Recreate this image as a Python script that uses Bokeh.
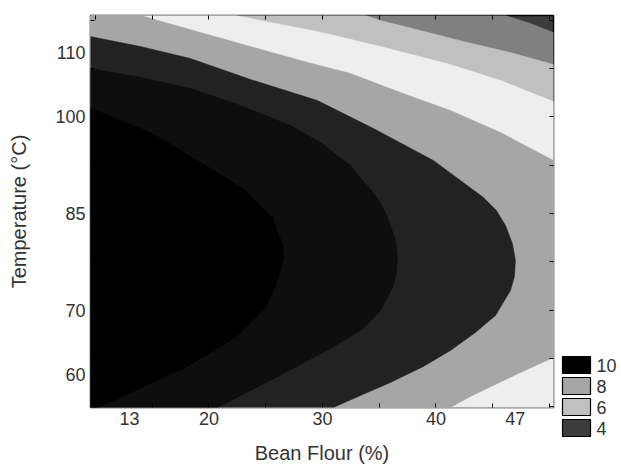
from bokeh.plotting import figure
from bokeh.layouts import row
from bokeh.models import (FixedTicker, LinearAxis, Range1d, CustomJSTickFormatter,
                          ColumnDataSource)
from bokeh.core.properties import value
from bokeh.embed import file_html
from bokeh.resources import INLINE

# ---- axis extents and ticks -------------------------------------------
X0, X1 = 9.56, 50.36          # Bean flour (%)
Y0, Y1 = 54.92, 115.7         # Temperature (°C)
x_tick_labels = [13, 20, 30, 40, 47]
y_tick_labels = [60, 70, 85, 100, 110]
x_tick_marks = [10, 15, 20, 25, 30, 35, 40, 45, 50]
y_tick_marks = [55, 62.5, 70, 77.5, 85, 92.5, 100, 107.5, 115]

# ---- contour boundaries (flour %, temperature) ---
# innermost (black) band boundary
b1_flour = [9.56, 12.21, 15.03, 19.43, 23.22, 25.60, 26.04, 26.48, 26.57, 26.30, 25.78, 24.98, 22.34, 17.93, 13.53, 10.27]
b1_temp = [101.28, 99.42, 97.40, 92.75, 88.57, 84.38, 82.05, 80.35, 78.02, 76.16, 73.37, 70.43, 65.78, 61.12, 57.56, 54.92]
# near-black band boundary
b2_flour = [9.56, 13.97, 18.37, 22.78, 27.19, 29.83, 32.47, 34.67, 35.47, 35.99, 36.44, 36.61, 36.52, 36.26, 35.11, 33.62, 30.71, 26.74, 23.66, 20.75]
b2_temp = [107.48, 106.09, 104.38, 101.74, 98.64, 96.01, 92.44, 87.79, 85.47, 83.14, 80.81, 78.18, 75.85, 73.84, 69.96, 67.17, 64.07, 60.35, 57.56, 54.92]
# dark band boundary
b3_flour = [9.56, 13.97, 18.37, 23.66, 29.56, 34.50, 39.78, 44.19, 45.33, 46.13, 46.74, 47.01, 46.92, 46.57, 45.25, 43.48, 41.28, 38.90, 35.99, 33.35, 30.97]
b3_temp = [112.44, 110.89, 109.03, 105.78, 102.52, 98.18, 93.22, 87.48, 85.47, 83.14, 80.35, 77.71, 75.23, 73.06, 69.19, 66.55, 63.76, 61.28, 58.80, 56.78, 54.92]
# mid-gray band boundary (upper and lower branch)
b4_top_flour = [13.97, 19.26, 23.66, 28.07, 32.47, 36.88, 41.28, 45.69, 50.36]
b4_top_temp = [115.70, 113.06, 110.89, 108.72, 106.71, 103.76, 100.97, 97.56, 93.22]
b4_bot_flour = [50.36, 47.45, 45.42, 43.04, 41.28]
b4_bot_temp = [62.67, 60.35, 58.64, 56.63, 54.92]
# very light band boundary
b5_flour = [22.34, 23.66, 29.56, 35.11, 41.28, 45.69, 50.36]
b5_temp = [115.70, 115.23, 113.22, 110.89, 108.10, 105.62, 102.36]
# light gray band boundary
b6_flour = [33.79, 35.11, 38.64, 42.43, 46.57, 50.36]
b6_temp = [115.70, 114.92, 113.37, 111.67, 109.96, 108.10]
# medium gray band boundary
b7_flour = [46.13, 48.33, 50.36]
b7_temp = [115.70, 114.46, 113.06]

band_colors = ["#3c3c3c", "#808080", "#c0c0c0", "#eeeeee", "#a6a6a6", "#222222", "#0e0e0e", "#000000"]

legend_labels = ["10", "8", "6", "4"]
legend_colors = ["#000000", "#a6a6a6", "#c0c0c0", "#3c3c3c"]

FONT = "Liberation Sans"
TXT = "#333333"
H = 469

p = figure(width=558, height=H, x_range=Range1d(X0, X1), y_range=Range1d(Y0, Y1),
           output_backend="svg", toolbar_location=None,
           min_border_left=90, min_border_right=5, min_border_top=15, min_border_bottom=62)
p.frame_align = False
p.background_fill_color = band_colors[0]
p.border_fill_color = "white"
p.outline_line_color = "black"
p.outline_line_width = 1.5
p.grid.visible = False


def top_right_region(fx, ty):
    return fx + [X1, X0, X0], ty + [Y0, Y0, Y1]


def left_bottom_region(fx, ty):
    return fx + [X0], ty + [Y0]


regions = [
    top_right_region(b7_flour, b7_temp),
    top_right_region(b6_flour, b6_temp),
    top_right_region(b5_flour, b5_temp),
    (b4_top_flour + b4_bot_flour + [X0, X0], b4_top_temp + b4_bot_temp + [Y0, Y1]),
    left_bottom_region(b3_flour, b3_temp),
    left_bottom_region(b2_flour, b2_temp),
    left_bottom_region(b1_flour, b1_temp),
]
for (xs, ys), col in zip(regions, band_colors[1:]):
    p.patch(xs, ys, fill_color=col, line_color=col, line_width=0.5)

# ---- axes --------------------------------------------------------------
def style_axis(ax):
    ax.axis_line_color = None
    ax.major_label_text_font = FONT
    ax.major_label_text_font_size = "18px"
    ax.major_label_text_color = TXT
    ax.axis_label_text_font = FONT
    ax.axis_label_text_font_size = "20px"
    ax.axis_label_text_font_style = "normal"
    ax.axis_label_text_color = TXT
    ax.major_tick_in = 0
    ax.major_tick_out = 0
    ax.minor_tick_in = 4
    ax.minor_tick_out = 0
    ax.minor_tick_line_color = "black"
    ax.minor_tick_line_width = 1


xa = p.xaxis[0]
xa.ticker = FixedTicker(ticks=x_tick_labels, minor_ticks=x_tick_marks)
xa.axis_label = "Bean Flour (%)"
style_axis(xa)
xa.major_label_standoff = 4
xa.axis_label_standoff = 14

ya = p.yaxis[0]
ya.ticker = FixedTicker(ticks=y_tick_labels, minor_ticks=y_tick_marks)
ya.axis_label = "Temperature (°C)"
style_axis(ya)
ya.major_label_standoff = 5
ya.axis_label_standoff = 22

blank = CustomJSTickFormatter(code="return ''")
top = LinearAxis(ticker=FixedTicker(ticks=[], minor_ticks=x_tick_marks), formatter=blank)
style_axis(top)
top.major_label_standoff = 0
p.add_layout(top, "above")
right = LinearAxis(ticker=FixedTicker(ticks=[], minor_ticks=y_tick_marks), formatter=blank)
style_axis(right)
right.major_label_standoff = 0
p.add_layout(right, "right")

# ---- legend panel (screen-pixel coordinates, y measured upward) --------
LG_W = 60
LEG_TOP = H - 356      # top of first swatch
LEG_STEP = 21
SW_H = 17
SW_X0, SW_X1, LAB_X = 4, 32, 38

lg = figure(width=LG_W, height=H, x_range=Range1d(0, LG_W), y_range=Range1d(0, H),
            output_backend="svg", toolbar_location=None,
            x_axis_location=None, y_axis_location=None,
            min_border_left=0, min_border_right=0, min_border_top=0, min_border_bottom=0)
lg.frame_align = False
lg.grid.visible = False
lg.outline_line_color = None

tops = [LEG_TOP - i * LEG_STEP for i in range(len(legend_labels))]
leg_src = ColumnDataSource(dict(
    label=legend_labels, color=legend_colors,
    top=tops, bottom=[t - SW_H for t in tops], mid=[t - SW_H / 2 for t in tops],
    left=[SW_X0] * len(tops), right=[SW_X1] * len(tops), lx=[LAB_X] * len(tops)))
lg.quad(left="left", right="right", top="top", bottom="bottom", fill_color="color",
        line_color="black", line_width=1.2, source=leg_src)
lg.text(x="lx", y="mid", text="label", source=leg_src, text_baseline="middle",
        text_align="left", text_font=value(FONT), text_font_size=value("18px"),
        text_color=TXT)

layout = row(p, lg, spacing=0)
open("out.html", "w").write(file_html(layout, INLINE))
